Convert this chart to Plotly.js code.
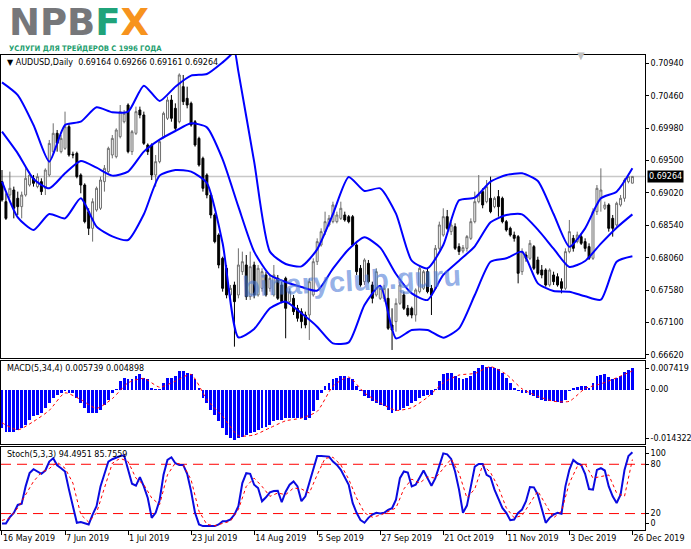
<!DOCTYPE html>
<html><head><meta charset="utf-8">
<script src="https://cdn.plot.ly/plotly-3.0.1.min.js"></script>
<style>html,body{margin:0;padding:0;background:#fff;}#chart{width:691px;height:549px;}</style>
</head><body><div id="chart"></div>
<script>
// ---- data ----
const dateLabels = ['16 May 2019','7 Jun 2019','1 Jul 2019','23 Jul 2019','14 Aug 2019','5 Sep 2019','27 Sep 2019','21 Oct 2019','11 Nov 2019','3 Dec 2019','26 Dec 2019'];
const dateIdx = [0,16,32,48,64,80,96,112,128,144,160];
const priceTicks = [0.70940,0.70460,0.69980,0.69500,0.69020,0.68540,0.68060,0.67580,0.67100,0.66620];

const open = [.69187,.68890,.68989,.69063,.68940,.68816,.68989,.69137,.69236,.69113,.69187,.69088,.69285,.69631,.69903,.69631,.69680,.70001,.69592,.69606,.69285,.69137,.68742,.68495,.68767,.68792,.69187,.69335,.69582,.69557,.69853,.70075,.70322,.69631,.69903,.70248,.70174,.69730,.69730,.69285,.69483,.69853,.70125,.70396,.70273,.70075,.70594,.70421,.70347,.70075,.69828,.69532,.69285,.68989,.68693,.68396,.68051,.67903,.67508,.67656,.67508,.67853,.67952,.67483,.67952,.67508,.67606,.67804,.67606,.67508,.67755,.67656,.67755,.67409,.67458,.67310,.67261,.67211,.67211,.67508,.68001,.68248,.68446,.68545,.68594,.68594,.68643,.68693,.68668,.68668,.68248,.67903,.67705,.67977,.67656,.67508,.67458,.67458,.67458,.67063,.67113,.67384,.67508,.67310,.67310,.67211,.67557,.67606,.67853,.67606,.67606,.68199,.68396,.68668,.68446,.68520,.68224,.68159,.68199,.68347,.68594,.68890,.69039,.68890,.68940,.68816,.68965,.68940,.68594,.68495,.68396,.68372,.67853,.68100,.68051,.68224,.68026,.67878,.67878,.67656,.67804,.67779,.67705,.67606,.68150,.68347,.68298,.68372,.68298,.68224,.68051,.68742,.68940,.68792,.68841,.68643,.68545,.68841,.68940,.69187,.69164];
const high = [.69359,.69014,.69335,.69113,.69039,.69039,.69384,.69335,.69285,.69310,.69236,.69384,.69804,.70051,.69952,.69878,.70224,.70051,.69631,.69631,.69310,.69162,.68792,.68940,.69113,.69261,.69433,.69705,.69878,.69977,.70322,.70248,.70347,.69952,.70298,.70298,.70224,.69754,.69754,.69582,.69804,.70224,.70446,.70470,.70347,.70791,.70767,.70594,.70372,.70100,.69853,.69557,.69310,.69014,.68718,.68421,.68075,.67952,.67656,.67705,.68199,.68150,.68100,.68150,.68001,.67952,.67903,.67853,.67804,.67952,.67804,.67705,.67779,.67606,.67508,.67360,.67310,.67261,.67755,.68051,.68347,.68495,.68742,.68693,.68890,.68742,.68890,.68742,.68693,.68693,.68273,.67952,.68051,.68026,.67705,.67903,.67656,.67656,.67606,.67310,.67458,.67705,.67557,.67360,.67335,.67606,.67952,.67878,.67903,.67656,.68248,.68594,.68792,.68767,.68594,.68569,.68273,.68248,.68396,.68643,.69039,.69285,.69088,.69211,.69261,.68965,.69063,.68965,.68619,.68520,.68446,.68396,.68199,.68150,.68322,.68248,.68075,.67952,.67903,.67903,.67853,.67829,.67755,.68199,.68619,.68396,.68446,.68421,.68347,.68273,.68792,.69137,.69384,.68890,.68866,.68693,.68890,.68989,.69236,.69310,.69266];
const low = [.68890,.68619,.68940,.68643,.68693,.68643,.68965,.69113,.69113,.69088,.68989,.68989,.69261,.69582,.69631,.69606,.69656,.69557,.69532,.69236,.69014,.68569,.68396,.68298,.68742,.68767,.69039,.69310,.69532,.69532,.69828,.70051,.69606,.69582,.69878,.70125,.69730,.69582,.69211,.69113,.69458,.69828,.70100,.70075,.69952,.70051,.70322,.70273,.70001,.69705,.69409,.69039,.68940,.68643,.68273,.67903,.67557,.67458,.67458,.66742,.67458,.67804,.67434,.67434,.67458,.67483,.67557,.67483,.67557,.67483,.67434,.67384,.66866,.67360,.67211,.67113,.67014,.67014,.66841,.67483,.67952,.68224,.68396,.68520,.68569,.68569,.68619,.68594,.68569,.68224,.67804,.67631,.67656,.67680,.67384,.67483,.67434,.67409,.66989,.66693,.66964,.67360,.67285,.67187,.67162,.67113,.67532,.67582,.67532,.67211,.67582,.68174,.68372,.68471,.68396,.68174,.68100,.68125,.68150,.68322,.68569,.68866,.68792,.68866,.68718,.68792,.68668,.68569,.68446,.68372,.68298,.67680,.67804,.68001,.68026,.67878,.67804,.67755,.67631,.67631,.67656,.67631,.67532,.67582,.68125,.68150,.68273,.68248,.68150,.68026,.68026,.68693,.68742,.68767,.68446,.68372,.68520,.68816,.68890,.69162,.69161];
const close = [.68915,.68643,.69088,.68792,.68816,.68989,.69236,.69285,.69162,.69261,.69039,.69359,.69754,.69903,.69754,.69828,.70001,.69582,.69582,.69261,.69137,.68594,.68495,.68890,.69088,.69211,.69384,.69680,.69828,.69952,.70224,.70199,.69631,.69927,.70224,.70174,.69754,.69631,.69285,.69483,.69779,.70199,.70396,.70125,.69977,.70767,.70372,.70322,.70026,.69730,.69433,.69088,.68989,.68693,.68298,.67952,.67606,.67508,.67606,.67409,.67952,.68001,.67483,.67927,.67508,.67903,.67853,.67508,.67755,.67804,.67458,.67409,.67310,.67557,.67261,.67162,.67113,.67063,.67705,.68001,.68298,.68446,.68594,.68643,.68841,.68693,.68792,.68619,.68594,.68248,.67853,.67656,.68026,.67705,.67458,.67853,.67606,.67606,.67014,.66989,.67384,.67656,.67310,.67211,.67211,.67582,.67903,.67853,.67557,.67508,.68199,.68545,.68668,.68495,.68545,.68199,.68150,.68209,.68372,.68594,.68890,.68989,.68841,.69113,.68742,.68940,.68816,.68594,.68471,.68396,.68347,.67829,.68150,.68051,.68273,.67903,.67829,.67804,.67656,.67878,.67705,.67656,.67606,.68150,.68446,.68199,.68396,.68273,.68199,.68051,.68742,.69088,.69063,.68841,.68495,.68495,.68866,.68940,.69211,.69261,.69264];

const bbIdx = [0,4,8,12,16,20,24,28,32,36,40,44,48,52,56,60,64,68,72,76,80,84,88,92,96,100,104,108,112,116,120,124,128,132,136,140,144,148,152,156,160];
const upperIdx = [0,4,8,12,16,20,24,28,32,36,40,44,48,52,56,58,59,60,64,68,72,76,80,84,88,92,96,100,104,108,112,116,120,124,128,132,136,140,144,148,152,156,160];
const bbUpper = [.70658,.70470,.70026,.69483,.70026,.70075,.70288,.70214,.70223,.70609,.70382,.70594,.70757,.70781,.70954,.71060,.71120,.70816,.69483,.68150,.67967,.67932,.68184,.68707,.69256,.69048,.69088,.68712,.68016,.67903,.68248,.68910,.68949,.69187,.69286,.69310,.69197,.68707,.68223,.68495,.68940,.69038,.69384];
const bbMiddle = [.69927,.69606,.69226,.69088,.69310,.69493,.69394,.69276,.69335,.69631,.69809,.69937,.70051,.69991,.69517,.68816,.68150,.67804,.67700,.67626,.67572,.67898,.68184,.68362,.68209,.67819,.67532,.67433,.67804,.68016,.68229,.68584,.68692,.68702,.68475,.68194,.67922,.68011,.68268,.68505,.68702];
const bbLower = [.69187,.68658,.68470,.68707,.68643,.68940,.68520,.68377,.68322,.68703,.69276,.69359,.69335,.69167,.68273,.66880,.67004,.67310,.67409,.67236,.67038,.66791,.66806,.67359,.67646,.66865,.66989,.66989,.66875,.67013,.67507,.68001,.68051,.68149,.67680,.67567,.67557,.67488,.67438,.68001,.68080];

const macdHist = [-0.01016,-0.01105,-0.01105,-0.01105,-0.01060,-0.01016,-0.00928,-0.00795,-0.00707,-0.00663,
-0.00619,-0.00486,-0.00353,-0.00221,-0.00133,-0.00088,-0.00044,-0.00088,-0.00088,-0.00221,
-0.00353,-0.00486,-0.00619,-0.00619,-0.00619,-0.00530,-0.00398,-0.00265,-0.00088,0.00018,
0.00221,0.00309,0.00265,0.00265,0.00353,0.00398,0.00309,0.00265,0.00044,0.00010,
0.00018,0.00177,0.00309,0.00309,0.00353,0.00486,0.00486,0.00442,0.00398,0.00265,
0.00044,-0.00221,-0.00353,-0.00530,-0.00663,-0.00840,-0.01016,-0.01193,-0.01281,-0.01326,
-0.01281,-0.01237,-0.01193,-0.01149,-0.01105,-0.01060,-0.01016,-0.00972,-0.00928,-0.00840,
-0.00795,-0.00795,-0.00751,-0.00751,-0.00751,-0.00751,-0.00751,-0.00795,-0.00751,-0.00574,
-0.00265,-0.00088,0.00088,0.00177,0.00265,0.00309,0.00353,0.00353,0.00309,0.00265,
0.00088,-0.00044,-0.00177,-0.00221,-0.00309,-0.00353,-0.00398,-0.00442,-0.00530,-0.00619,
-0.00574,-0.00530,-0.00486,-0.00442,-0.00353,-0.00309,-0.00221,-0.00177,-0.00133,-0.00133,
0.00010,0.00221,0.00398,0.00442,0.00442,0.00353,0.00309,0.00283,0.00309,0.00353,
0.00486,0.00574,0.00636,0.00601,0.00601,0.00574,0.00530,0.00442,0.00309,0.00177,
0.00044,-0.00044,-0.00088,-0.00088,-0.00133,-0.00177,-0.00221,-0.00265,-0.00309,-0.00309,
-0.00309,-0.00336,-0.00353,-0.00265,-0.00044,0.00044,0.00071,0.00106,0.00088,0.00044,
0.00177,0.00353,0.00371,0.00398,0.00336,0.00283,0.00309,0.00353,0.00460,0.00513,
0.005739];
const macdSigIdx = bbIdx;
const macdSignal = [-0.00875,-0.01060,-0.00840,-0.00548,-0.00088,-0.00265,-0.00495,-0.00239,0.00177,0.00292,0.00062,0.00221,0.00398,-0.00265,-0.00707,-0.01211,-0.01193,-0.01007,-0.00822,-0.00751,-0.00574,0.00088,0.00327,-0.00088,-0.00353,-0.00548,-0.00477,-0.00203,0.00177,0.00380,0.00424,0.00601,0.00398,0.00018,-0.00177,-0.00309,-0.00309,0.00027,0.00150,0.00309,0.004898];
const macdTickText = ['0.007419','0.00','-0.014322'];

const stochMain = [8.0,8.0,15.6,20.9,30.5,32.1,53.1,69.2,74.0,71.6,
68.4,72.4,83.3,87.3,78.8,75.2,71.2,49.1,29.0,8.8,
9.6,8.0,6.8,18.8,29.0,53.1,68.4,83.3,86.1,88.5,
90.1,90.9,72.4,56.3,53.9,64.3,53.1,39.0,14.8,20.9,
36.2,67.2,85.3,88.5,81.2,79.2,79.2,68.4,47.0,20.9,
6.8,4.8,4.8,4.8,4.8,6.8,10.8,10.8,12.8,18.8,
29.0,57.1,69.2,68.4,55.1,51.1,35.0,39.8,45.8,47.4,
47.8,33.8,46.6,55.1,59.1,53.1,35.0,41.0,57.1,73.2,
90.1,90.1,90.1,89.3,83.3,79.2,73.2,63.9,55.1,32.9,
20.9,12.0,8.8,14.8,18.8,20.9,20.1,20.9,24.5,26.5,
37.0,63.1,71.2,70.0,53.1,55.1,63.1,72.4,63.1,53.9,
63.1,78.0,93.3,92.0,86.5,71.2,49.1,20.9,29.7,53.1,
77.2,80.4,80.4,67.2,64.3,49.1,37.0,26.9,20.9,12.0,
12.8,20.9,24.9,35.0,52.3,51.9,43.0,24.9,8.8,14.8,
18.8,20.9,19.7,53.1,73.2,85.3,81.2,79.2,68.4,49.9,
49.1,73.2,75.2,72.4,53.1,41.0,32.9,43.0,73.2,90.1,
94.4951];
const stochSigIdx = [0,2,4,6,8,10,12,14,16,18,20,22,24,26,28,30,32,34,36,38,40,42,44,46,48,50,52,54,56,58,60,62,64,66,68,70,72,74,76,78,80,82,84,86,88,90,92,94,96,98,100,102,104,106,108,110,112,114,116,118,120,122,124,126,128,130,132,134,136,138,140,142,144,146,148,150,152,154,156,158,160];
const stochSignal = [11.6,14.8,26.9,43.0,59.1,70.0,74.8,82.5,75.2,57.1,18.8,9.6,20.9,51.1,81.2,87.3,83.3,63.1,55.1,39.0,30.9,67.2,81.6,79.2,61.1,22.9,6.8,5.2,8.0,10.8,24.9,53.1,63.1,53.1,41.0,45.0,43.0,51.1,49.9,45.0,67.2,87.3,88.5,79.2,61.9,38.9,20.9,15.6,18.0,22.9,26.9,50.0,61.9,57.1,64.7,63.1,75.2,86.5,69.2,39.0,50.0,79.2,70.0,51.9,26.9,14.8,17.6,32.1,47.4,30.9,14.8,22.9,57.1,77.2,80.4,63.1,65.2,67.0,45.0,41.0,85.7559];
const stochLevels = [80, 20];
const stochTickText = ['100','80','20','0'];

// ---- chart ----
const idx = close.map((_, i) => i);
const last = close.length - 1;
const f5 = v => v.toFixed(5);
const BLUE = '#0000ff';
const FONT = 'DejaVu Sans, Verdana, sans-serif';

const traces = [
  {type:'candlestick', x: idx, open, high, low, close, xaxis:'x', yaxis:'y',
   increasing:{line:{color:'#6e6e6e', width:1}, fillcolor:'#ffffff'},
   decreasing:{line:{color:'#000000', width:1}, fillcolor:'#000000'},
   whiskerwidth:0, hoverinfo:'skip'},
  {type:'scatter', mode:'lines', x: upperIdx, y: bbUpper, line:{color:BLUE, width:2, shape:'spline', smoothing:0.6}, xaxis:'x', yaxis:'y', hoverinfo:'skip'},
  {type:'scatter', mode:'lines', x: bbIdx, y: bbMiddle, line:{color:BLUE, width:2, shape:'spline', smoothing:0.6}, xaxis:'x', yaxis:'y', hoverinfo:'skip'},
  {type:'scatter', mode:'lines', x: bbIdx, y: bbLower, line:{color:BLUE, width:2, shape:'spline', smoothing:0.6}, xaxis:'x', yaxis:'y', hoverinfo:'skip'},
  {type:'bar', x: idx, y: macdHist, width:0.72, marker:{color:BLUE, line:{width:0}}, xaxis:'x2', yaxis:'y2', hoverinfo:'skip'},
  {type:'scatter', mode:'lines', x: macdSigIdx, y: macdSignal, line:{color:'#ff0000', width:1, dash:'dot', shape:'spline', smoothing:0.6}, xaxis:'x2', yaxis:'y2', hoverinfo:'skip'},
  {type:'scatter', mode:'lines', x: idx, y: stochMain, line:{color:'#0a0ae0', width:2}, xaxis:'x3', yaxis:'y3', hoverinfo:'skip'},
  {type:'scatter', mode:'lines', x: stochSigIdx, y: stochSignal, line:{color:'#ff0000', width:1, dash:'dot'}, xaxis:'x3', yaxis:'y3', hoverinfo:'skip'}
];

const axBase = {showline:true, linecolor:'#000', linewidth:1, mirror:true, showgrid:false, zeroline:false, fixedrange:true};
const tickFont = {family:FONT, size:8, color:'#000'};

const logoText = '<span style="font-size:37px;font-weight:bold">NPB<span style="fill:#1fa37a;color:#1fa37a">F</span><span style="fill:#f7931e;color:#f7931e">X</span></span>' +
  '<br><span style="font-size:7.6px;font-weight:bold;font-family:\'DejaVu Sans Condensed\',\'DejaVu Sans\',sans-serif;fill:#1e9e6e;color:#1e9e6e">УСЛУГИ ДЛЯ ТРЕЙДЕРОВ С 1996 ГОДА</span>';

const layout = {
  width:691, height:549,
  margin:{l:1, r:46, t:55, b:19, pad:0},
  paper_bgcolor:'#ffffff', plot_bgcolor:'#ffffff',
  showlegend:false,
  font:{family:FONT, size:8, color:'#000'},
  xaxis: Object.assign({}, axBase, {anchor:'y', range:[-0.25, 163.2], showticklabels:false, ticks:'', rangeslider:{visible:false}}),
  xaxis2: Object.assign({}, axBase, {anchor:'y2', matches:'x', showticklabels:false, ticks:''}),
  xaxis3: Object.assign({}, axBase, {anchor:'y3', matches:'x', tickvals:dateIdx, ticktext:dateLabels, ticks:'outside', ticklen:4, tickcolor:'#000', tickfont:tickFont, ticklabelposition:'outside right'}),
  yaxis: Object.assign({}, axBase, {domain:[0.3621, 1], anchor:'x', side:'right', range:[0.66574, 0.71063], tickvals:priceTicks, ticktext:priceTicks.map(f5), ticks:'outside', ticklen:3, tickcolor:'#000', tickfont:tickFont}),
  yaxis2: Object.assign({}, axBase, {domain:[0.181, 0.3558], anchor:'x2', side:'right', range:[-0.01432, 0.0075], tickvals:[0.00557, 0, -0.0128], ticktext:macdTickText, ticks:'outside', ticklen:3, tickcolor:'#000', tickfont:tickFont}),
  yaxis3: Object.assign({}, axBase, {domain:[0, 0.1747], anchor:'x3', side:'right', range:[0, 101], tickvals:[93.7, stochLevels[0], stochLevels[1], 8.5], ticktext:stochTickText, ticks:'outside', ticklen:3, tickcolor:'#000', tickfont:tickFont}),
  bargap:0,
  shapes: [
    {type:'line', xref:'paper', x0:0, x1:1, yref:'y', y0:close[last], y1:close[last], line:{color:'#c8c8c8', width:1.5}, layer:'below'},
    {type:'line', xref:'paper', x0:0, x1:1, yref:'y3', y0:stochLevels[0], y1:stochLevels[0], line:{color:'#ff0000', width:1, dash:'10px,6px'}, layer:'below'},
    {type:'line', xref:'paper', x0:0, x1:1, yref:'y3', y0:stochLevels[1], y1:stochLevels[1], line:{color:'#ff0000', width:1, dash:'10px,6px'}, layer:'below'}
  ],
  annotations: [
    {xref:'paper', yref:'paper', x:0.006, y:0.9985, xanchor:'left', yanchor:'top', showarrow:false,
     text:'▼ AUDUSD,Daily  ' + [open[last], high[last], low[last], close[last]].map(f5).join(' '), font:{family:FONT, size:8, color:'#000'}},
    {xref:'paper', yref:'paper', x:0.006, y:0.3535, xanchor:'left', yanchor:'top', showarrow:false,
     text:'MACD(5,34,4) ' + macdHist[last].toFixed(6) + ' ' + macdSignal[macdSignal.length-1].toFixed(6), font:{family:FONT, size:8, color:'#000'}},
    {xref:'paper', yref:'paper', x:0.006, y:0.1725, xanchor:'left', yanchor:'top', showarrow:false,
     text:'Stoch(5,3,3) ' + stochMain[last].toFixed(4) + ' ' + stochSignal[stochSignal.length-1].toFixed(4), font:{family:FONT, size:8, color:'#000'}},
    {xref:'paper', yref:'y', x:1, y:close[last], xanchor:'left', yanchor:'middle', xshift:2, showarrow:false,
     text:f5(close[last]), bgcolor:'#000', borderpad:1, font:{family:FONT, size:8, color:'#fff'}},
    {xref:'paper', yref:'paper', x:0.5435, y:0.524, xanchor:'center', yanchor:'middle', showarrow:false, textangle:-3,
     text:'<b>binaryclub.guru</b>', font:{family:'Liberation Sans, Arial, sans-serif', size:29, color:'rgba(80,125,215,0.62)'}},
    {xref:'paper', yref:'paper', x:0.9, y:1.0, xanchor:'center', yanchor:'middle', showarrow:false,
     text:'▼', font:{family:FONT, size:10, color:'#c0c0c0'}},
    // logo + tagline
    {xref:'paper', yref:'paper', x:0.0109, y:1.0025, xanchor:'left', yanchor:'bottom', align:'left', showarrow:false, borderpad:0,
     text:logoText, font:{family:'DejaVu Sans, sans-serif', size:12.2, color:'#76777a'}}
  ]
};

Plotly.newPlot('chart', traces, layout, {displayModeBar:false, staticPlot:true});
</script>
</body></html>
